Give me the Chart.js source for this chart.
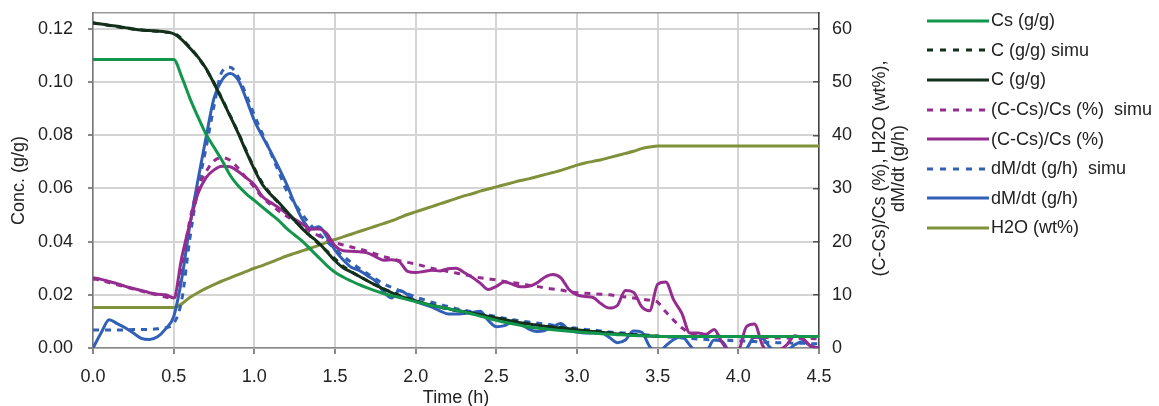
<!DOCTYPE html>
<html lang="en">
<head>
    <meta charset="UTF-8">
    <title>Drying curves</title>
    <script src="https://cdn.jsdelivr.net/npm/chart.js"></script>
    <style>
        body { margin: 0; background: white; }
        #wrap { width: 1159px; height: 406px; position: relative; }
        #legend {
            position: absolute;
            left: 927px;
            top: 6px;
            font-family: 'Liberation Sans', Arial, sans-serif;
            font-size: 18px;
            color: #222;
        }
        #legend .item { height: 29.6px; display: flex; align-items: center; white-space: pre; }
        #legend svg { display: block; margin-right: 2px; }
    </style>
</head>
<body>
    <div id="wrap">
        <canvas id="chart"></canvas>
        <div id="legend"></div>
    </div>
    <script>
        // time axis (h), one reading every 0.05 h
        const time = [0.00, 0.05, 0.10, 0.15, 0.20, 0.25, 0.30, 0.35, 0.40, 0.45, 0.50,
            0.55, 0.60, 0.65, 0.70, 0.75, 0.80, 0.85, 0.90, 0.95, 1.00,
            1.05, 1.10, 1.15, 1.20, 1.25, 1.30, 1.35, 1.40, 1.45, 1.50,
            1.55, 1.60, 1.65, 1.70, 1.75, 1.80, 1.85, 1.90, 1.95, 2.00,
            2.05, 2.10, 2.15, 2.20, 2.25, 2.30, 2.35, 2.40, 2.45, 2.50,
            2.55, 2.60, 2.65, 2.70, 2.75, 2.80, 2.85, 2.90, 2.95, 3.00,
            3.05, 3.10, 3.15, 3.20, 3.25, 3.30, 3.35, 3.40, 3.45, 3.50,
            3.55, 3.60, 3.65, 3.70, 3.75, 3.80, 3.85, 3.90, 3.95, 4.00,
            4.05, 4.10, 4.15, 4.20, 4.25, 4.30, 4.35, 4.40, 4.45, 4.50];

        // left axis (g/g)
        const cs = [0.1085, 0.1085, 0.1085, 0.1085, 0.1085, 0.1085, 0.1085, 0.1085, 0.1085, 0.1085, 0.1085,
            0.102, 0.094, 0.087, 0.0805, 0.0755, 0.0705, 0.065, 0.061, 0.058, 0.0555,
            0.053, 0.0505, 0.048, 0.045, 0.0425, 0.040, 0.037, 0.034, 0.031, 0.0285,
            0.0267, 0.0252, 0.0238, 0.0226, 0.0215, 0.0205, 0.0197, 0.019, 0.0182, 0.0174,
            0.0167, 0.016, 0.0154, 0.0148, 0.0142, 0.0136, 0.0128, 0.012, 0.0112, 0.0104,
            0.0097, 0.0091, 0.0085, 0.0079, 0.0075, 0.0072, 0.0069, 0.0066, 0.0063, 0.0061,
            0.0058, 0.0056, 0.0054, 0.0052, 0.0050, 0.0049, 0.0047, 0.0046, 0.0045, 0.0044,
            0.0043, 0.0043, 0.0043, 0.0043, 0.0043, 0.0043, 0.0043, 0.0043, 0.0043, 0.0043,
            0.0043, 0.0043, 0.0043, 0.0043, 0.0043, 0.0043, 0.0043, 0.0043, 0.0043, 0.0043];
        const cSimu = [0.1222, 0.1218, 0.1213, 0.1208, 0.1203, 0.1199, 0.1196, 0.1193, 0.1191, 0.1188, 0.1184,
            0.1163, 0.1131, 0.1094, 0.1050, 0.0997, 0.0937, 0.0874, 0.0810, 0.0742, 0.0676,
            0.0620, 0.0580, 0.0546, 0.0512, 0.0479, 0.0448, 0.0419, 0.0391, 0.0364, 0.0335,
            0.0308, 0.0288, 0.0270, 0.0253, 0.0237, 0.0223, 0.0210, 0.0198, 0.0187, 0.0178,
            0.0169, 0.0161, 0.0154, 0.0147, 0.0141, 0.0135, 0.0129, 0.0124, 0.0119, 0.0114,
            0.0108, 0.0103, 0.0097, 0.0092, 0.0087, 0.0083, 0.0079, 0.0076, 0.0073, 0.0070,
            0.0066, 0.0063, 0.0060, 0.0057, 0.0054, 0.0052, 0.0050, 0.0048, 0.0046, 0.0044,
            0.0043, 0.0043, 0.0043, 0.0043, 0.0043, 0.0043, 0.0043, 0.0043, 0.0043, 0.0043,
            0.0043, 0.0043, 0.0043, 0.0043, 0.0043, 0.0043, 0.0043, 0.0043, 0.0043, 0.0043];
        const cMeas = [0.1223, 0.1219, 0.1214, 0.1210, 0.1205, 0.1200, 0.1196, 0.1194, 0.1192, 0.1189, 0.1182,
            0.1160, 0.1128, 0.1095, 0.1052, 0.0995, 0.0935, 0.0872, 0.0808, 0.0738, 0.0672,
            0.0615, 0.0578, 0.0548, 0.0514, 0.0480, 0.0447, 0.0420, 0.0395, 0.0362, 0.0328,
            0.0302, 0.0286, 0.0270, 0.0253, 0.0237, 0.0222, 0.0208, 0.0196, 0.0186, 0.0177,
            0.0168, 0.0161, 0.0154, 0.0148, 0.0142, 0.0137, 0.0131, 0.0125, 0.0119, 0.0113,
            0.0107, 0.0101, 0.0095, 0.0090, 0.0086, 0.0082, 0.0078, 0.0075, 0.0072, 0.0069,
            0.0065, 0.0062, 0.0059, 0.0056, 0.0053, 0.0051, 0.0049, 0.0047, 0.0045, 0.0044,
            0.0043, 0.0043, 0.0043, 0.0043, 0.0043, 0.0043, 0.0043, 0.0043, 0.0043, 0.0043,
            0.0043, 0.0043, 0.0043, 0.0043, 0.0043, 0.0043, 0.0043, 0.0043, 0.0043, 0.0043];

        // right axis (%, wt%, g/h)
        const ratioSimu = [13.0, 12.7, 12.3, 11.9, 11.5, 11.1, 10.7, 10.3, 10.0, 9.6, 9.3,
            15.5, 24.0, 30.0, 33.1, 35.2, 35.8, 35.3, 33.8, 32.0, 30.2,
            28.3, 27.0, 25.8, 24.8, 23.8, 22.8, 21.9, 21.1, 20.4, 19.8,
            19.4, 19.0, 18.6, 18.2, 17.7, 17.2, 16.8, 16.4, 16.1, 15.8,
            15.4, 15.0, 14.7, 14.4, 14.1, 13.8, 13.5, 13.2, 13.0, 12.8,
            12.5, 12.3, 12.1, 11.8, 11.6, 11.3, 11.1, 10.9, 10.6, 10.4,
            10.3, 10.2, 10.1, 10.0, 9.8, 9.6, 9.4, 9.2, 9.0, 8.6,
            6.8, 5.2, 3.8, 2.8, 2.4, 2.3, 2.2, 2.2, 2.1, 2.1,
            2.0, 2.0, 2.0, 1.9, 1.9, 1.9, 1.8, 1.8, 1.8, 1.7];
        const ratioMeas = [13.2, 12.9, 12.5, 12.1, 11.6, 11.2, 10.8, 10.4, 10.1, 10.0, 9.4,
            17.0, 23.4, 29.0, 32.0, 33.5, 34.2, 34.1, 33.2, 32.0, 30.7,
            28.5, 27.4, 26.4, 25.3, 24.2, 23.3, 22.4, 22.4, 21.5, 19.2,
            18.3, 18.2, 18.1, 17.9, 17.2, 16.5, 16.6, 16.2, 14.4, 14.2,
            14.4, 14.6, 14.5, 14.9, 15.0, 14.2, 13.3, 12.2, 11.0, 11.6,
            12.4, 12.0, 11.5, 11.6, 12.2, 13.3, 13.8, 13.2, 11.0, 10.0,
            9.7, 9.5, 8.3, 7.5, 8.0, 10.8, 10.5, 7.8, 7.0, 12.0,
            12.4, 9.0, 6.5, 2.8, 2.8, 2.6, 3.5, 1.0, -0.8, -0.5,
            4.0, 4.5, 0.5, -1.0, -0.5, 0.6, 2.3, 1.8, 0.3, 0.0];
        const rateSimu = [3.4, 3.4, 3.4, 3.4, 3.4, 3.5, 3.5, 3.5, 3.6, 3.8, 4.6,
            9.0, 20.5, 30.0, 37.5, 45.5, 52.0, 52.8, 51.0, 47.6, 43.8,
            40.3, 36.8, 33.2, 29.6, 27.2, 25.0, 23.1, 21.5, 20.0, 18.6,
            17.3, 16.1, 15.0, 14.0, 13.0, 12.1, 11.4, 10.8, 10.2, 9.6,
            9.1, 8.6, 8.2, 7.8, 7.4, 7.1, 6.8, 6.5, 6.2, 5.9,
            5.6, 5.3, 5.1, 4.9, 4.7, 4.5, 4.3, 4.1, 3.9, 3.7,
            3.5, 3.4, 3.2, 3.0, 2.9, 2.8, 2.6, 2.5, 2.4, 2.2,
            2.1, 2.0, 1.9, 1.8, 1.7, 1.6, 1.5, 1.5, 1.4, 1.3,
            1.3, 1.2, 1.1, 1.1, 1.0, 1.0, 0.9, 0.9, 0.8, 0.8];
        const rateMeas = [0.0, 2.8, 5.3, 4.6, 3.8, 2.8, 1.8, 1.6, 2.1, 3.6, 5.9,
            13.0, 23.0, 31.5, 39.5, 47.0, 50.4, 51.6, 50.4, 46.8, 42.8,
            39.8, 37.0, 34.0, 30.8, 27.2, 24.1, 22.4, 22.8, 20.9, 18.4,
            16.6, 15.2, 14.6, 13.6, 12.6, 10.6, 9.4, 10.8, 10.0, 8.8,
            8.2, 7.7, 7.0, 6.4, 6.4, 6.5, 6.7, 6.9, 5.2, 4.0,
            4.2, 4.9, 4.5, 3.6, 3.1, 3.3, 4.0, 4.6, 3.4, 3.0,
            2.8, 2.8, 2.8, 2.0, 1.0, 1.5, 3.2, 3.0, 0.3, -1.0,
            0.4, 1.6, 2.1, 0.5, -1.2, -0.8, 1.5, 1.2, -1.0, -1.5,
            -0.2, 2.0, 1.8, 0.0, -0.8, -0.5, 0.6, 1.2, 0.4, 0.0];
        const h2o = [7.6, 7.6, 7.6, 7.6, 7.6, 7.6, 7.6, 7.6, 7.6, 7.6, 7.6,
            8.3, 9.5, 10.4, 11.2, 11.9, 12.6, 13.2, 13.8, 14.4, 15.0,
            15.5, 16.1, 16.7, 17.3, 17.8, 18.3, 18.8, 19.3, 19.9, 20.4,
            20.9, 21.4, 21.9, 22.4, 22.9, 23.4, 23.9, 24.5, 25.1, 25.6,
            26.1, 26.6, 27.1, 27.6, 28.1, 28.6, 29.0, 29.5, 29.9, 30.3,
            30.7, 31.1, 31.5, 31.8, 32.2, 32.6, 33.0, 33.4, 33.9, 34.4,
            34.8, 35.1, 35.4, 35.8, 36.2, 36.6, 37.0, 37.5, 37.8, 38.0,
            38.0, 38.0, 38.0, 38.0, 38.0, 38.0, 38.0, 38.0, 38.0, 38.0,
            38.0, 38.0, 38.0, 38.0, 38.0, 38.0, 38.0, 38.0, 38.0, 38.0];

        const concTicks = [0, 0.02, 0.04, 0.06, 0.08, 0.10, 0.12];
        const rightTicks = [0, 10, 20, 30, 40, 50, 60];

        const FONT = "'Liberation Sans', Arial, sans-serif";
        Chart.defaults.font.family = FONT;
        Chart.defaults.font.size = 18;
        Chart.defaults.color = '#222';

        function series(label, values, color, axis, dashed) {
            return {
                label: label,
                data: time.map((t, i) => ({ x: t, y: values[i] })),
                yAxisID: axis,
                borderColor: color,
                backgroundColor: color,
                borderWidth: 3,
                borderDash: dashed ? [6, 6] : [],
                pointRadius: 0,
                cubicInterpolationMode: 'monotone',
                fill: false,
                clip: 0
            };
        }

        // fixed axis sizes; drop the label overflow padding so the plot top sits at 13px
        function fixWidth(w) {
            return s => { s.width = w; s.paddingTop = 0; s.paddingBottom = 0; };
        }

        // right axis title, reads bottom-to-top like the left one
        const rightTitle = {
            id: 'rightTitle',
            afterDraw(chart) {
                const ctx = chart.ctx;
                const area = chart.chartArea;
                ctx.save();
                ctx.fillStyle = '#222';
                ctx.font = '18px ' + FONT;
                ctx.textAlign = 'center';
                ctx.textBaseline = 'middle';
                const cy = (area.top + area.bottom) / 2 - 12;
                [['(C-Cs)/Cs (%), H2O (wt%),', 61], ['dM/dt (g/h)', 80]].forEach(([txt, dx]) => {
                    ctx.save();
                    ctx.translate(area.right + dx, cy);
                    ctx.rotate(-Math.PI / 2);
                    ctx.fillText(txt, 0, 0);
                    ctx.restore();
                });
                ctx.restore();
            }
        };

        const chart = new Chart(document.getElementById('chart'), {
            type: 'line',
            data: {
                datasets: [
                    series('Cs (g/g)', cs, '#12964c', 'y', false),
                    series('C (g/g) simu', cSimu, '#13301d', 'y', true),
                    series('C (g/g)', cMeas, '#13301d', 'y', false),
                    series('(C-Cs)/Cs (%)  simu', ratioSimu, '#952c90', 'y2', true),
                    series('(C-Cs)/Cs (%)', ratioMeas, '#952c90', 'y2', false),
                    series('dM/dt (g/h)  simu', rateSimu, '#3160b6', 'y2', true),
                    series('dM/dt (g/h)', rateMeas, '#3160b6', 'y2', false),
                    series('H2O (wt%)', h2o, '#7f913a', 'y2', false)
                ]
            },
            options: {
                responsive: true,
                maintainAspectRatio: false,
                animation: false,
                layout: { padding: { right: 243 } },
                plugins: {
                    tooltip: { enabled: false },
                    legend: { display: false }
                },
                scales: {
                    x: {
                        type: 'linear',
                        position: 'bottom',
                        min: 0,
                        max: 4.5,
                        ticks: { stepSize: 0.5, padding: 12, callback: v => v.toFixed(1) },
                        grid: { color: '#d4d4d4', lineWidth: 2, tickLength: 6, tickColor: '#888' },
                        border: { color: '#888', width: 1.5 },
                        title: { display: true, text: 'Time (h)', padding: { top: 0, bottom: -3 } },
                        afterFit: s => { s.height = 58; s.paddingLeft = 0; s.paddingRight = 0; }
                    },
                    xTop: {
                        type: 'linear',
                        position: 'top',
                        min: 0,
                        max: 4.5,
                        ticks: { display: false },
                        grid: { display: false, drawTicks: false },
                        border: { color: '#999', width: 1.5 },
                        afterFit: s => { s.height = 13; s.paddingLeft = 0; s.paddingRight = 0; }
                    },
                    y: {
                        position: 'left',
                        min: 0,
                        max: 0.126,
                        afterBuildTicks: s => { s.ticks = concTicks.map(v => ({ value: v })); },
                        ticks: { padding: 15, callback: v => v.toFixed(2) },
                        grid: { color: '#d4d4d4', lineWidth: 2, tickLength: 5, tickColor: '#888' },
                        border: { color: '#777', width: 1.5 },
                        title: { display: true, text: 'Conc. (g/g)', padding: { top: 8, bottom: 0 } },
                        afterFit: fixWidth(93)
                    },
                    y2: {
                        position: 'right',
                        min: 0,
                        max: 63,
                        afterBuildTicks: s => { s.ticks = rightTicks.map(v => ({ value: v })); },
                        ticks: { padding: 19 },
                        // short tick marks pointing into the plot
                        grid: { drawOnChartArea: false, tickLength: -6, tickColor: '#555', lineWidth: 1.5 },
                        border: { color: '#444', width: 1.5 },
                        afterFit: fixWidth(97)
                    }
                }
            },
            plugins: [rightTitle]
        });

        // HTML legend built from the datasets
        const legendBox = document.getElementById('legend');
        chart.data.datasets.forEach(ds => {
            const row = document.createElement('div');
            row.className = 'item';
            const dash = ds.borderDash.length ? ' stroke-dasharray="6 7"' : '';
            row.innerHTML = '<svg width="62" height="6"><line x1="0" y1="3" x2="62" y2="3" stroke="' +
                ds.borderColor + '" stroke-width="3"' + dash + '/></svg>';
            const label = document.createElement('span');
            label.textContent = ds.label;
            row.appendChild(label);
            legendBox.appendChild(row);
        });
    </script>
</body>
</html>
